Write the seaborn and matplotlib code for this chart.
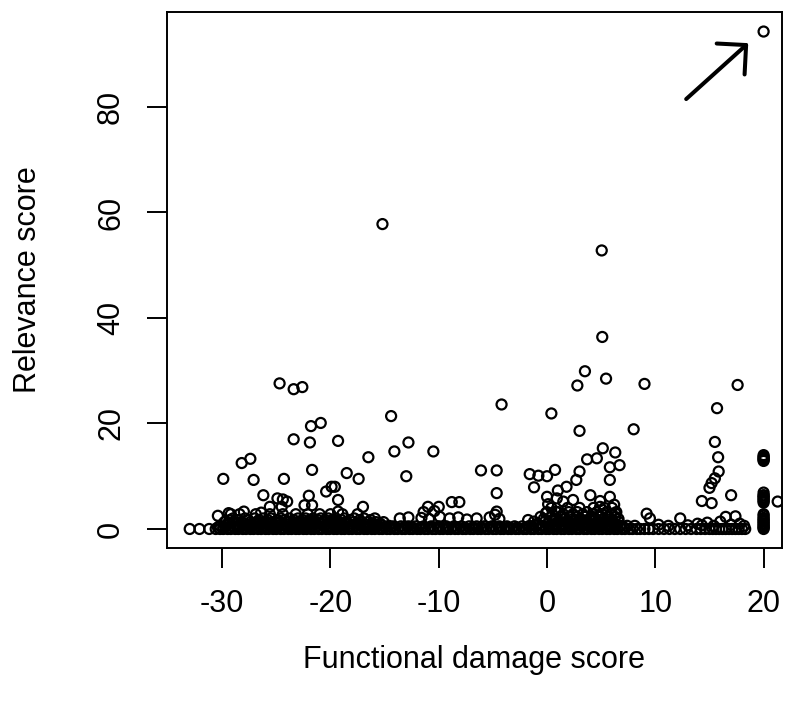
import pandas as pd
import seaborn as sns
import matplotlib.pyplot as plt

# scattered points clearly above the floor
high_damage = [20.0, -15.2, 5.05, 5.1, 3.5, 5.45, 2.8, 9.0, 0.4, 3.0, 8.0, 5.15, 6.3, 3.7, 4.6,
               5.8, 6.7, -1.6, -0.8, 0.0, 0.74, 3.0, 2.7, 5.8, 1.8, 1.0, -1.2,
               -24.7, -23.4, -22.6, -14.4, -21.8, -20.9, -23.4, -21.9, -19.3, -12.8, -14.1,
               -16.5, -28.2, -27.4, -10.5, -13.0, -21.7, -18.5, -17.4, -29.9, -27.1, -24.3,
               -20.4, -19.9, -19.6, -26.2, -22.0, -24.9, -24.4, -24.0, -19.3,
               -4.2, -6.1, -4.65, -4.65, -8.8, -8.1,
               17.6, 15.7, 15.5, 15.8, 15.85, 15.5, 15.2, 15.0, 17.0, 14.3, 15.2, 21.3]
high_relevance = [94.3, 57.8, 52.8, 36.4, 29.9, 28.5, 27.2, 27.5, 21.9, 18.6, 18.9, 15.3, 14.5, 13.2, 13.4,
                  11.7, 12.1, 10.4, 10.1, 10.0, 11.2, 10.9, 9.3, 9.3, 8.0, 7.3, 7.9,
                  27.6, 26.5, 26.9, 21.4, 19.5, 20.1, 17.0, 16.4, 16.7, 16.4, 14.7,
                  13.6, 12.5, 13.3, 14.7, 10.0, 11.2, 10.6, 9.5, 9.5, 9.3, 9.5,
                  7.1, 8.0, 8.0, 6.4, 6.3, 5.8, 5.6, 5.2, 5.5,
                  23.6, 11.1, 11.1, 6.8, 5.1, 5.1,
                  27.3, 22.9, 16.5, 13.6, 10.9, 9.6, 8.7, 7.8, 6.4, 5.3, 4.9, 5.2]

# low relevance cloud just above the floor
low_damage = [
    # left cluster
    -30.2, -29.6, -29.0, -28.4, -27.8, -27.2, -26.6, -26.0, -25.4, -24.8, -24.2, -23.6, -23.0, -22.4,
    -21.8, -21.2, -20.6, -20.0, -19.4, -18.8, -18.2, -17.6, -17.0, -16.4, -15.8, -15.2, -14.6,
    -29.8, -29.0, -28.2, -27.4, -26.8, -26.0, -25.4, -24.7, -24.0, -23.4, -22.7, -22.0, -21.4, -20.7,
    -20.0, -19.3, -18.6, -17.9, -17.2, -16.5, -15.8, -15.1,
    -29.0, -27.9, -27.0, -26.2, -25.5, -24.6, -23.8, -23.0, -22.3, -21.6, -20.9, -20.2, -19.5, -18.7,
    -17.8, -16.9, -15.9,
    -29.2, -28.4, -26.9, -25.6, -24.4, -23.2, -22.1, -21.0, -20.0, -18.9, -17.5,
    -25.6, -24.5, -22.4, -21.7, -17.0, -19.3, -30.4, -29.4, -28.0, -26.4,
    # middle stretch
    -14.2, -13.5, -12.8, -12.1, -11.4, -10.7, -10.0, -9.3, -8.6, -7.9, -7.2, -6.5, -5.8, -5.1,
    -4.4, -3.7, -3.0, -2.3,
    -13.6, -12.8, -11.6, -10.9, -9.9, -9.0, -8.2, -7.4, -6.5, -5.3, -4.4,
    -11.0, -10.0, -11.4, -10.4, -4.65, -4.8, -1.75,
    # right cluster
    -1.6, -1.0, -0.4, 0.2, 0.8, 1.4, 2.0, 2.6, 3.2, 3.8, 4.4, 5.0, 5.6, 6.2, 6.8, 7.4,
    -1.2, -0.2, 0.6, 1.2, 1.8, 2.4, 3.0, 3.6, 4.2, 4.8, 5.4, 6.0, 6.6,
    -0.6, 0.4, 1.3, 2.1, 2.8, 3.5, 4.2, 4.9, 5.6, 6.3,
    0.0, 1.0, 2.0, 2.8, 3.7, 4.6, 5.5, 6.4,
    0.0, 0.9, 4.0, 5.8, 0.1, 1.5, 2.4, 4.9, 6.2, -0.1, 0.8, 4.9, 6.3, 9.2,
    # far right
    8.1, 9.5, 10.3, 11.2, 12.3, 13.0, 13.9, 14.3, 14.8, 15.4, 16.0, 16.5, 17.0, 17.4, 17.8, 18.2,
    # column at 20
    20.0, 20.0, 20.0, 20.0, 20.0, 20.0, 20.0, 20.0, 20.0, 20.0, 20.0, 20.0, 20.0, 20.0, 20.0, 20.0,
]
low_relevance = [
    0.6, 0.6, 0.6, 0.6, 0.6, 0.6, 0.6, 0.6, 0.6, 0.6, 0.6, 0.6, 0.6, 0.6,
    0.6, 0.6, 0.6, 0.6, 0.6, 0.6, 0.6, 0.6, 0.6, 0.6, 0.6, 0.6, 0.6,
    1.3, 1.3, 1.3, 1.3, 1.3, 1.3, 1.3, 1.3, 1.3, 1.3, 1.3, 1.3, 1.3, 1.3,
    1.3, 1.3, 1.3, 1.3, 1.3, 1.3, 1.3, 1.3,
    2.0, 2.0, 2.0, 2.0, 2.0, 2.0, 2.0, 2.0, 2.0, 2.0, 2.0, 2.0, 2.0, 2.0,
    2.0, 2.0, 2.0,
    2.8, 2.8, 2.8, 2.8, 2.8, 2.8, 2.8, 2.8, 2.8, 2.8, 2.8,
    4.2, 4.2, 4.5, 4.5, 4.2, 3.3, 2.5, 3.0, 3.3, 3.1,
    0.5, 0.5, 0.5, 0.5, 0.5, 0.5, 0.5, 0.5, 0.5, 0.5, 0.5, 0.5, 0.5, 0.5,
    0.5, 0.5, 0.5, 0.5,
    2.0, 2.2, 2.1, 1.9, 2.3, 2.0, 2.2, 1.8, 2.0, 2.2, 1.9,
    4.2, 4.2, 3.2, 3.4, 3.3, 2.7, 1.7,
    0.6, 0.6, 0.6, 0.6, 0.6, 0.6, 0.6, 0.6, 0.6, 0.6, 0.6, 0.6, 0.6, 0.6, 0.6, 0.6,
    1.4, 1.4, 1.4, 1.4, 1.4, 1.4, 1.4, 1.4, 1.4, 1.4, 1.4, 1.4, 1.4,
    2.3, 2.3, 2.3, 2.3, 2.3, 2.3, 2.3, 2.3, 2.3, 2.3,
    3.2, 3.2, 3.2, 3.2, 3.2, 3.2, 3.2, 3.2,
    6.1, 5.8, 6.4, 6.1, 4.7, 5.2, 5.5, 5.3, 4.6, 3.0, 3.3, 4.2, 3.0, 2.9,
    0.6, 2.0, 0.8, 0.6, 2.0, 0.7, 1.0, 0.7, 1.2, 0.6, 1.4, 2.3, 0.8, 2.4, 1.0, 0.6,
    0.4, 0.9, 1.4, 1.9, 2.5, 5.0, 5.5, 6.0, 6.4, 6.9, 12.9, 13.3, 13.7, 14.0, 0.0, 2.8,
]

# extra points packing the densest part of the floor
floor_damage = [
    -30.4, -29.9, -29.4, -28.9, -28.4, -27.9, -27.4, -26.9, -26.4, -25.9, -25.4, -24.9, -24.4, -23.9,
    -23.4, -22.9, -22.4, -21.9, -21.4, -20.9, -20.4, -19.9, -19.4, -18.9, -18.4, -17.9, -17.4, -16.9,
    -16.4, -15.9, -15.4, -14.9,
    -29.5, -28.7, -27.9, -27.1, -26.3, -25.6, -24.9, -24.2, -23.5, -22.8, -22.1, -21.5, -20.9, -20.3,
    -19.7, -19.0, -18.3, -17.6, -16.9, -16.1, -15.4,
    -29.3, -28.5, -27.6, -26.6, -25.8, -24.9, -24.2, -23.4, -22.6, -21.9, -21.2, -20.5, -19.8, -19.0,
    -18.2, -17.3, -16.3,
    -14.0, -13.2, -12.4, -11.6, -10.8, -10.0, -9.2, -8.4, -7.6, -6.8, -6.0, -5.2, -4.4, -3.6, -2.8, -2.0,
    -1.3, -0.7, -0.1, 0.5, 1.1, 1.7, 2.3, 2.9, 3.5, 4.1, 4.7, 5.3, 5.9, 6.5, 7.1,
    -0.9, 0.1, 0.9, 1.5, 2.1, 2.7, 3.3, 3.9, 4.5, 5.1, 5.7, 6.3,
    -0.3, 0.7, 1.6, 2.4, 3.1, 3.9, 4.5, 5.2, 5.9, 6.6,
    0.5, 1.5, 2.4, 3.3, 4.2, 5.1, 5.9,
    0.4, 1.9, 3.0, 4.3, 5.3, 6.0,
    20.0, 20.0, 20.0, 20.0, 20.0, 20.0, 20.0, 20.0, 20.0, 20.0,
]
floor_relevance = [
    0.3, 0.3, 0.3, 0.3, 0.3, 0.3, 0.3, 0.3, 0.3, 0.3, 0.3, 0.3, 0.3, 0.3,
    0.3, 0.3, 0.3, 0.3, 0.3, 0.3, 0.3, 0.3, 0.3, 0.3, 0.3, 0.3, 0.3, 0.3,
    0.3, 0.3, 0.3, 0.3,
    1.0, 1.0, 1.0, 1.0, 1.0, 1.0, 1.0, 1.0, 1.0, 1.0, 1.0, 1.0, 1.0, 1.0,
    1.0, 1.0, 1.0, 1.0, 1.0, 1.0, 1.0,
    1.7, 1.7, 1.7, 1.7, 1.7, 1.7, 1.7, 1.7, 1.7, 1.7, 1.7, 1.7, 1.7, 1.7,
    1.7, 1.7, 1.7,
    0.25, 0.25, 0.25, 0.25, 0.25, 0.25, 0.25, 0.25, 0.25, 0.25, 0.25, 0.25, 0.25, 0.25, 0.25, 0.25,
    0.3, 0.3, 0.3, 0.3, 0.3, 0.3, 0.3, 0.3, 0.3, 0.3, 0.3, 0.3, 0.3, 0.3, 0.3,
    1.0, 1.0, 1.0, 1.0, 1.0, 1.0, 1.0, 1.0, 1.0, 1.0, 1.0, 1.0,
    1.9, 1.9, 1.9, 1.9, 1.9, 1.9, 1.9, 1.9, 1.9, 1.9,
    2.8, 2.8, 2.8, 2.8, 2.8, 2.8, 2.8,
    4.0, 4.0, 4.0, 4.0, 4.0, 4.0,
    0.2, 0.6, 1.1, 1.6, 2.1, 5.3, 5.8, 6.3, 13.1, 13.5,
]

# points lying on zero relevance
zero_damage = [-33.0, -32.1, -31.2, -30.6, -30.2, -29.9, -29.5, -29.2, -28.8, -28.5, -28.1, -27.8,
               -27.4, -27.1, -26.7, -26.4, -26.0, -25.7, -25.3, -25.0, -24.6, -24.3, -23.9, -23.6,
               -23.2, -22.9, -22.5, -22.2, -21.8, -21.5, -21.1, -20.8, -20.4, -20.1, -19.7, -19.4,
               -19.0, -18.7, -18.3, -18.0, -17.6, -17.3, -16.9, -16.6, -16.2, -15.9, -15.5, -15.2,
               -14.8, -14.5, -14.1, -13.8, -13.4, -13.1, -12.7, -12.4, -12.0, -11.7, -11.3, -11.0,
               -10.6, -10.3, -9.9, -9.6, -9.2, -8.9, -8.5, -8.2, -7.8, -7.5, -7.1, -6.8, -6.4, -6.1,
               -5.7, -5.4, -5.0, -4.7, -4.3, -4.0, -3.6, -3.3, -2.9, -2.6, -2.2, -1.9, -1.5, -1.2,
               -0.8, -0.5, -0.1, 0.2, 0.6, 0.9, 1.3, 1.6, 2.0, 2.3, 2.7, 3.0, 3.4, 3.7, 4.1, 4.4,
               4.8, 5.1, 5.5, 5.8, 6.2, 6.5, 6.9, 7.2, 7.6, 7.9, 8.3, 8.6, 9.0, 9.4, 9.8, 10.3,
               10.8, 11.3, 11.8, 12.3, 12.8, 13.3, 13.8, 14.2, 14.6, 15.0, 15.3, 15.6, 15.9, 16.2,
               16.5, 16.8, 17.1, 17.4, 17.7, 18.0, 18.3]

df = pd.DataFrame({
    'damage': high_damage + low_damage + floor_damage + zero_damage,
    'relevance': high_relevance + low_relevance + floor_relevance + [0.0] * len(zero_damage),
})

sns.set_style('ticks')
plt.rcParams['font.family'] = ['Liberation Sans', 'DejaVu Sans']
plt.rcParams['axes.unicode_minus'] = False

fig = plt.figure(figsize=(7.94, 7.11), dpi=100)
ax = fig.add_axes([0.2103, 0.2293, 0.7746, 0.7538])

sns.scatterplot(x='damage', y='relevance', data=df, ax=ax, marker='o', s=52,
                facecolor='none', edgecolor='black', linewidth=1.6, legend=False)

ax.set_xlim(-35.1, 21.7)
ax.set_ylim(-3.6, 98.0)
ax.set_xticks([-30, -20, -10, 0, 10, 20])
ax.set_yticks([0, 20, 40, 60, 80])

for side in ['top', 'right', 'bottom', 'left']:
    ax.spines[side].set_visible(True)
    ax.spines[side].set_linewidth(1.4)
    ax.spines[side].set_color('black')

ax.tick_params(axis='both', length=14.5, width=1.4, pad=15, labelsize=22, colors='black')
ax.tick_params(axis='y', labelrotation=90)
for lab in ax.get_yticklabels():
    lab.set_va('center')

ax.set_xlabel('Functional damage score', fontsize=22, color='black')
ax.set_ylabel('Relevance score', fontsize=22, color='black')
ax.xaxis.set_label_coords(0.5, -0.209)
ax.xaxis.label.set_va('center')
ax.yaxis.set_label_coords(-0.226, 0.5)
ax.yaxis.label.set_va('center')

# arrow pointing at the top outlier
ax.annotate('', xy=(18.58, 92.1), xytext=(12.85, 81.5),
            arrowprops=dict(arrowstyle='->,head_length=1.5,head_width=1.5', mutation_scale=10,
                            lw=2.9, color='black', shrinkA=0, shrinkB=0))

fig.savefig('out.png', dpi=100)
